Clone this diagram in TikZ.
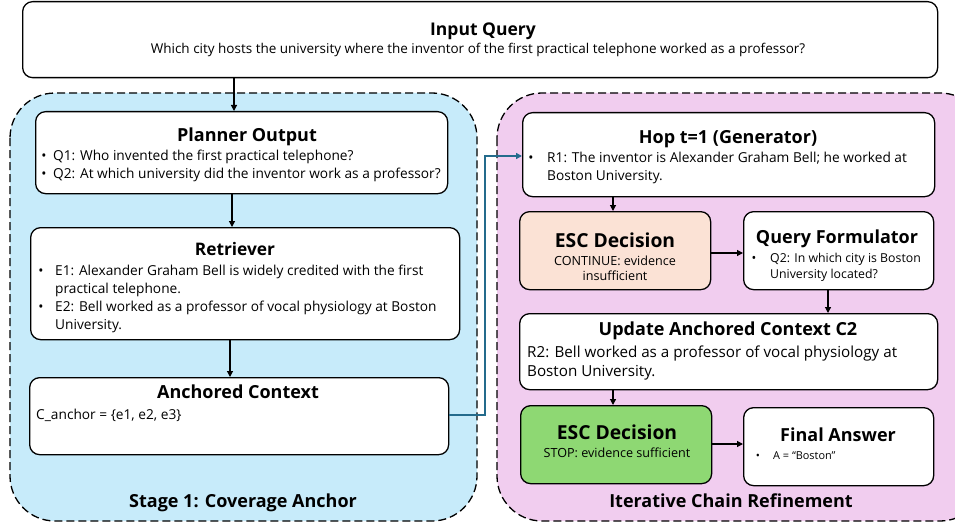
\documentclass[tikz,border=0pt]{standalone}
\usepackage{fontspec}
\setmainfont{Open Sans}
\usetikzlibrary{arrows.meta}
\definecolor{bluereg}{RGB}{199,235,250}
\definecolor{pinkreg}{RGB}{241,205,239}
\definecolor{escorange}{RGB}{251,226,213}
\definecolor{escgreen}{RGB}{142,216,115}
\definecolor{linkblue}{RGB}{36,107,140}
\begin{document}
\begin{tikzpicture}[x=1pt,y=-1pt,
  box/.style={draw=black, line width=1.3pt, rounded corners=10pt, fill=white, inner sep=0pt, anchor=north west},
  region/.style={draw=black, line width=1.3pt, dash pattern=on 8pt off 4pt, rounded corners=45pt},
  ttl/.style={font=\fontsize{18}{20}\selectfont\bfseries, inner sep=0pt, anchor=base},
  escttl/.style={font=\fontsize{19.3}{22}\selectfont\bfseries, inner sep=0pt, anchor=base},
  bd/.style={font=\fontsize{13.7}{18}\selectfont, inner sep=0pt, anchor=base west},
  bdc/.style={font=\fontsize{13.5}{18}\selectfont, inner sep=0pt, anchor=base},
  bul/.style={font=\fontsize{13.7}{18}\selectfont, inner sep=0pt, anchor=base},
  updtxt/.style={font=\fontsize{15.2}{18}\selectfont, inner sep=0pt, anchor=base west},
  sm/.style={font=\fontsize{12.6}{15}\selectfont, inner sep=0pt, anchor=base},
  smw/.style={font=\fontsize{12.3}{15}\selectfont, inner sep=0pt, anchor=base west},
  tiny/.style={font=\fontsize{10.9}{12}\selectfont, inner sep=0pt, anchor=base west},
  arr/.style={-{Triangle[length=6pt,width=6pt]}, line width=1.2pt},
]
\useasboundingbox (0,0) rectangle (955,524);
\clip (0,0) rectangle (955,524);

% regions
\path[region, fill=bluereg] (10,93) rectangle (477,521);
\path[region, fill=pinkreg] (497,93) rectangle (985,521);

% input query
\node[box, minimum width=915pt, minimum height=76pt] (inq) at (22,1) {};
\node[ttl, font=\fontsize{17.5}{20}\selectfont\bfseries] (inqT) at (483,36) {Input Query};
\node[bdc] (inqB) at (478,54) {Which city hosts the university where the inventor of the first practical telephone worked as a professor?};

% planner
\node[box, minimum width=412pt, minimum height=82pt] (plan) at (35,111) {};
\node[ttl] (planT) at (247,141) {Planner Output};
\node[bul] (planb1) at (44,160) {•};
\node[bd] (plan1) at (53,160) {Q1: Who invented the first practical telephone?};
\node[bul] (planb2) at (44,178) {•};
\node[bd] (plan2) at (53,178) {Q2: At which university did the inventor work as a professor?};

% retriever
\node[box, minimum width=429pt, minimum height=112pt] (ret) at (30,227) {};
\node[ttl, font=\fontsize{17.3}{20}\selectfont\bfseries] (retT) at (235,255) {Retriever};
\node[bul] (retb1) at (41,275) {•};
\node[bd] (ret1) at (55,275) {E1: Alexander Graham Bell is widely credited with the first};
\node[bd] (ret1b) at (55,293) {practical telephone.};
\node[bul] (retb2) at (41,311) {•};
\node[bd] (ret2) at (55,311) {E2: Bell worked as a professor of vocal physiology at Boston};
\node[bd] (ret2b) at (55,329) {University.};

% anchored context
\node[box, minimum width=419pt, minimum height=77pt] (anc) at (29,377) {};
\node[ttl] (ancT) at (238,398) {Anchored Context};
\node[bd] (anc1) at (36,419) {C\_anchor = \{e1, e2, e3\}};

\node[ttl] (stage1) at (243,507) {Stage 1: Coverage Anchor};

% hop
\node[box, minimum width=412pt, minimum height=84pt] (hop) at (522,112) {};
\node[ttl] (hopT) at (728,143) {Hop t=1 (Generator)};
\node[bul] (hopb1) at (531,162) {•};
\node[bd] (hop1) at (547,162) {R1: The inventor is Alexander Graham Bell; he worked at};
\node[bd] (hop1b) at (547,180) {Boston University.};

% ESC 1
\node[box, fill=escorange, minimum width=191pt, minimum height=78pt] (esc1) at (519,211) {};
\node[escttl] (esc1T) at (615,247) {ESC Decision};
\node[sm] (esc1a) at (615,265) {CONTINUE: evidence};
\node[sm] (esc1b) at (615,280) {insufficient};

% query formulator
\node[box, minimum width=190pt, minimum height=78pt] (qf) at (743,211) {};
\node[ttl] (qfT) at (837,243) {Query Formulator};
\node[sm] (qfb) at (754,262) {•};
\node[smw] (qf1) at (770,262) {Q2: In which city is Boston};
\node[smw] (qf1b) at (770,278) {University located?};

% update
\node[box, minimum width=418pt, minimum height=76pt] (upd) at (519,313) {};
\node[ttl] (updT) at (728,335) {Update Anchored Context C2};
\node[updtxt] (upd1) at (527,357) {R2: Bell worked as a professor of vocal physiology at};
\node[updtxt] (upd1b) at (527,376) {Boston University.};

% ESC 2
\node[box, fill=escgreen, minimum width=191pt, minimum height=78pt] (esc2) at (520,405) {};
\node[escttl] (esc2T) at (617,439) {ESC Decision};
\node[sm] (esc2a) at (617,457) {STOP: evidence sufficient};

% final answer
\node[box, minimum width=190pt, minimum height=78pt] (fin) at (743,407) {};
\node[ttl] (finT) at (838,441) {Final Answer};
\node[tiny, anchor=base] (finb) at (758,459) {•};
\node[tiny] (fin1) at (773,459) {A = “Boston”};

\node[ttl] (stage2) at (731,507) {Iterative Chain Refinement};

% connectors
\coordinate (c1) at (234,0);
\coordinate (c2) at (232,0);
\coordinate (c3) at (230,0);
\coordinate (c4) at (613,0);
\coordinate (c5) at (0,253);
\coordinate (c6) at (828,0);
\coordinate (c7) at (0,444);
\coordinate (lkx) at (485,0);
\coordinate (lky1) at (0,415);
\coordinate (lky2) at (0,156);

\draw[arr] (inq.south -| c1) -- (plan.north -| c1);
\draw[arr] (plan.south -| c2) -- (ret.north -| c2);
\draw[arr] (ret.south -| c3) -- (anc.north -| c3);
\draw[arr] (hop.south -| c4) -- (esc1.north -| c4);
\draw[arr] (esc1.east |- c5) -- (qf.west |- c5);
\draw[arr] (qf.south -| c6) -- (upd.north -| c6);
\draw[arr] (upd.south -| c4) -- (esc2.north -| c4);
\draw[arr] (esc2.east |- c7) -- (fin.west |- c7);
\draw[arr, draw=linkblue, line width=1.4pt] (anc.east |- lky1) -| (lkx |- lky2) -- (hop.west |- lky2);

\end{tikzpicture}
\end{document}
